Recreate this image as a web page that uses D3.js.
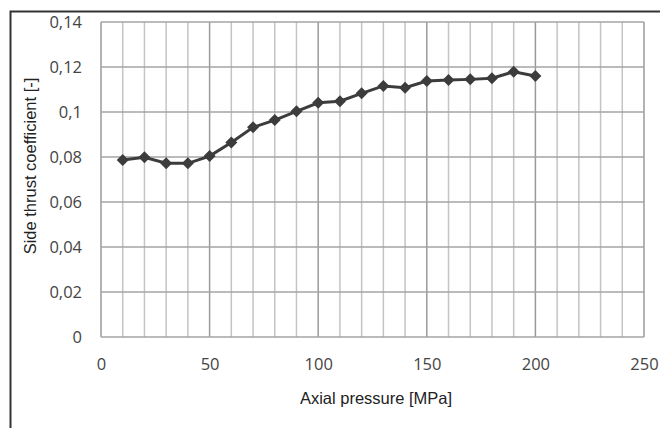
<!DOCTYPE html>
<html>
<head>
<meta charset="utf-8">
<script src="https://cdn.jsdelivr.net/npm/d3@7"></script>
<style>
  body { margin: 0; background: #fff; }
  .tick text { font-family: "Open Sans", sans-serif; font-size: 16.5px; fill: #444; }
  .title { font-family: "Liberation Sans", Arial, sans-serif; font-size: 16.5px; fill: #222; }
</style>
</head>
<body>
<script>
// side thrust coefficient vs axial pressure
var pressure = [10, 20, 30, 40, 50, 60, 70, 80, 90, 100, 110, 120, 130, 140, 150, 160, 170, 180, 190, 200];
var coeff = [0.0787, 0.0799, 0.0772, 0.0772, 0.0804, 0.0864, 0.0932, 0.0964, 0.1003, 0.1041,
             0.1048, 0.1083, 0.1116, 0.1108, 0.1138, 0.1142, 0.1145, 0.1150, 0.1179, 0.1160];
var xTicks = [0, 50, 100, 150, 200, 250];
var xMinor = d3.range(0, 251, 10);
var yTicks = [0, 0.02, 0.04, 0.06, 0.08, 0.1, 0.12, 0.14];

var W = 660, H = 428;
var m = {left: 101, right: 16, top: 22, bottom: 91};
var w = W - m.left - m.right, h = H - m.top - m.bottom;

var comma = d3.formatLocale({decimal: ",", thousands: ".", grouping: [3], currency: ["", ""]});
var fmt = comma.format("~g");

var svg = d3.select("body").append("svg").attr("width", W).attr("height", H);

// outer frame (top + left edge visible)
svg.append("path").attr("d", "M10.5,428 V11.5 H660")
  .attr("fill", "none").attr("stroke", "#333").attr("stroke-width", 2);

var x = d3.scaleLinear().domain([0, 250]).range([0, w]);
var y = d3.scaleLinear().domain([0, 0.14]).range([h, 0]);

var g = svg.append("g").attr("transform", "translate(" + m.left + "," + m.top + ")");

// minor vertical grid
g.selectAll(".vminor").data(xMinor.filter(d => d % 50 != 0)).enter().append("line")
  .attr("x1", d => x(d)).attr("x2", d => x(d)).attr("y1", 0).attr("y2", h)
  .attr("stroke", "#c4c4c4").attr("stroke-width", 1.5);
// major vertical grid
g.selectAll(".vmajor").data(xTicks).enter().append("line")
  .attr("x1", d => x(d)).attr("x2", d => x(d)).attr("y1", 0).attr("y2", h)
  .attr("stroke", "#9a9a9a").attr("stroke-width", 1.5);
// horizontal grid
g.selectAll(".hgrid").data(yTicks).enter().append("line")
  .attr("x1", 0).attr("x2", w).attr("y1", d => y(d)).attr("y2", d => y(d))
  .attr("stroke", "#a4a4a4").attr("stroke-width", 1.5);

var xAxis = g.append("g").attr("transform", "translate(0," + h + ")")
  .call(d3.axisBottom(x).tickValues(xTicks).tickSize(0).tickPadding(21));
xAxis.select(".domain").remove();

var yAxis = g.append("g")
  .call(d3.axisLeft(y).tickValues(yTicks).tickFormat(fmt).tickSize(0).tickPadding(19));
yAxis.select(".domain").remove();

// series
var line = d3.line().x((d, i) => x(pressure[i])).y(d => y(d));
g.append("path").datum(coeff).attr("d", line)
  .attr("fill", "none").attr("stroke", "#3c3c3c").attr("stroke-width", 3);

// square markers turned 45deg
var marker = d3.symbol().type(d3.symbolSquare).size(72);
g.selectAll(".pt").data(coeff).enter().append("path")
  .attr("d", marker)
  .attr("transform", (d, i) => "translate(" + x(pressure[i]) + "," + y(d) + ") rotate(45)")
  .attr("fill", "#3c3c3c");

// axis titles
svg.append("text").attr("class", "title").attr("x", 376).attr("y", 404)
  .attr("text-anchor", "middle").text("Axial pressure [MPa]");
svg.append("text").attr("class", "title")
  .attr("transform", "translate(36,166) rotate(-90)")
  .attr("text-anchor", "middle").text("Side thrust coefficient [-]");
</script>
</body>
</html>
